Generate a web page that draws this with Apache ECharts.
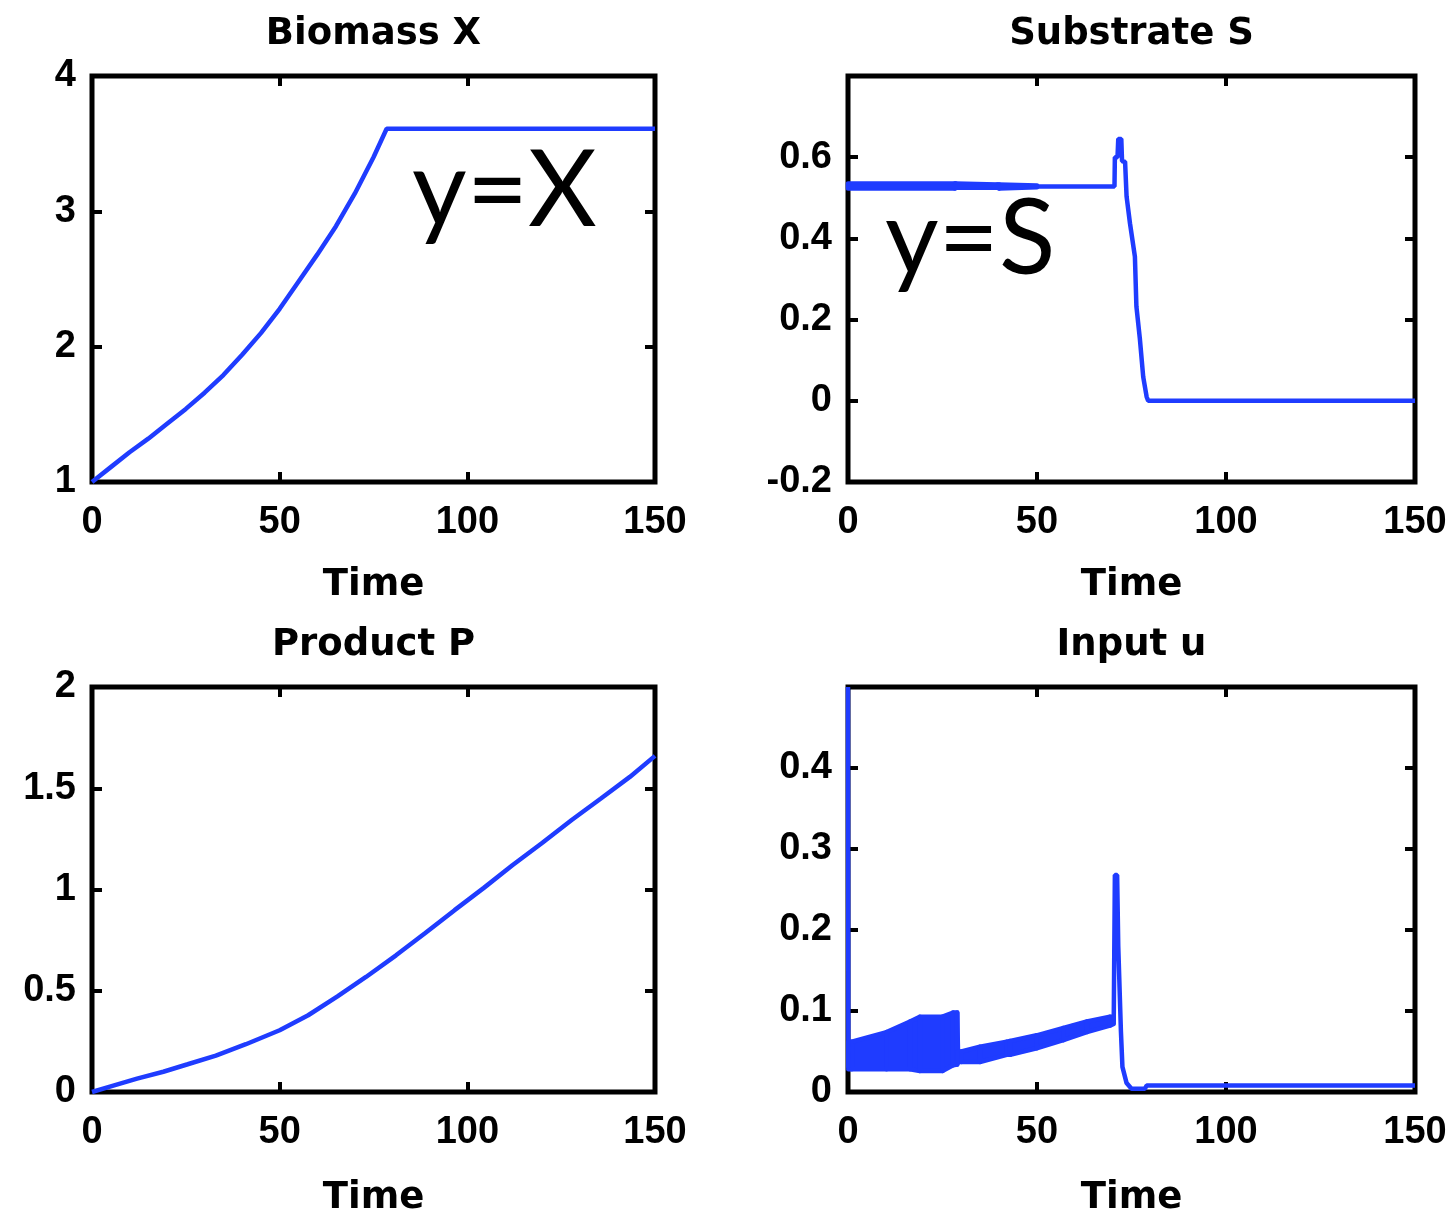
<!DOCTYPE html>
<html>
<head>
<meta charset="utf-8">
<title>Fed-batch simulation</title>
<script src="https://cdn.jsdelivr.net/npm/echarts@6/dist/echarts.min.js"></script>
<style>
  html, body { margin: 0; padding: 0; background: #fff; }
  #main { width: 1455px; height: 1215px; }
</style>
</head>
<body>
<div id="main"></div>
<script>
// ---- values ----
const biomassT = [0, 5, 10, 15, 20, 25, 30, 35, 40, 45, 50, 55, 60, 65, 70, 75, 78.5, 150];
const biomassX = [1.0, 1.11, 1.22, 1.32, 1.43, 1.54, 1.66, 1.79, 1.94, 2.10, 2.28, 2.48, 2.68, 2.89, 3.13, 3.40, 3.61, 3.61];

// S chatters in a thin band for the first 50 time units
const substrateBandT = [0, 28.3, 28.5, 39.5, 40, 50];
const substrateBandLow = [0.523, 0.523, 0.525, 0.525, 0.523, 0.526];
const substrateBandHigh = [0.535, 0.535, 0.535, 0.533, 0.533, 0.530];
const substrateT = [0, 50, 70.5, 70.6, 71.3, 71.5, 72.3, 72.5, 73.3, 73.7, 74.6, 75.9, 76.3, 77.2, 78.1, 79.0, 79.4, 150];
const substrateS = [0.528, 0.528, 0.528, 0.60, 0.60, 0.645, 0.645, 0.59, 0.589, 0.503, 0.437, 0.355, 0.232, 0.154, 0.059, 0.010, 0.0, 0.0];

const productT = [0, 5, 12, 19, 25.5, 33, 41, 50, 57.6, 65.4, 73, 81, 88.8, 96.6, 104.4, 112, 120, 127.8, 135.5, 143.3, 150];
const productP = [0, 0.028, 0.066, 0.10, 0.137, 0.18, 0.236, 0.305, 0.379, 0.472, 0.568, 0.675, 0.785, 0.898, 1.008, 1.12, 1.231, 1.343, 1.448, 1.556, 1.66];

// u chatters between two envelopes until the spike near t = 71
const inputBandT = [0.1, 1, 10.2, 16.4, 19, 25, 27.8, 28.9, 29.1, 30, 34.9, 42, 42.9, 49.9, 57, 63.2, 69.3, 70.3];
const inputBandLow = [0.028, 0.028, 0.028, 0.028, 0.026, 0.026, 0.033, 0.034, 0.037, 0.037, 0.037, 0.046, 0.046, 0.054, 0.064, 0.074, 0.082, 0.084];
const inputBandHigh = [0.062, 0.062, 0.074, 0.087, 0.093, 0.093, 0.098, 0.098, 0.050, 0.050, 0.056, 0.062, 0.063, 0.070, 0.079, 0.087, 0.093, 0.093];
const inputT = [0, 0.1, 35, 70.3, 70.6, 71.2, 71.5, 71.9, 72.2, 72.6, 73.7, 75.0, 78.5, 79.0, 150];
const inputU = [0.5, 0.03, null, 0.088, 0.268, 0.268, 0.18, 0.18, 0.075, 0.031, 0.011, 0.004, 0.004, 0.008, 0.008];

const timeMin = 0, timeMax = 150, timeStep = 50;

// ---- layout ----
const BLUE = '#1f3cff';
const panels = [
  { left: 92,  top: 76,  width: 563, height: 406, title: 'Biomass X',   yMin: 1,    yMax: 4,   yStep: 1,   showMax: true,  nameGap: 85 },
  { left: 848, top: 76,  width: 567, height: 406, title: 'Substrate S', yMin: -0.2, yMax: 0.8, yStep: 0.2, showMax: false, nameGap: 85 },
  { left: 92,  top: 687, width: 563, height: 405, title: 'Product P',   yMin: 0,    yMax: 2,   yStep: 0.5, showMax: true,  nameGap: 88 },
  { left: 848, top: 687, width: 567, height: 405, title: 'Input u',     yMin: 0,    yMax: 0.5, yStep: 0.1, showMax: false, nameGap: 88 }
];

const tickFont = { fontFamily: 'Liberation Sans', fontWeight: 'bold', fontSize: 38, color: '#000' };
const nameFont = { fontFamily: 'DejaVu Sans', fontWeight: 'bold', fontSize: 37, color: '#000' };
const tick = { inside: true, length: 10, lineStyle: { color: '#000', width: 4 } };

function pairs(ts, vs) {
  return ts.map((t, i) => [t, vs[i] === null ? '-' : vs[i]]);
}

function lineSeries(idx, ts, vs) {
  return {
    type: 'line',
    xAxisIndex: idx * 2,
    yAxisIndex: idx * 2,
    data: pairs(ts, vs),
    showSymbol: false,
    connectNulls: false,
    lineStyle: { color: BLUE, width: 4.5 },
    itemStyle: { color: BLUE },
    silent: true
  };
}

// filled envelope: each item draws the strip up to the next sample
function bandSeries(idx, ts, lows, highs) {
  return {
    type: 'custom',
    xAxisIndex: idx * 2,
    yAxisIndex: idx * 2,
    data: ts.map((t, i) => [t, lows[i], highs[i]]),
    encode: { x: 0, y: [1, 2] },
    silent: true,
    renderItem: function (params, api) {
      const i = params.dataIndex;
      if (i >= ts.length - 1) return null;
      const pts = [
        api.coord([ts[i], lows[i]]),
        api.coord([ts[i + 1], lows[i + 1]]),
        api.coord([ts[i + 1], highs[i + 1]]),
        api.coord([ts[i], highs[i]])
      ];
      return {
        type: 'polygon',
        shape: { points: pts },
        style: { fill: BLUE, stroke: BLUE, lineWidth: 4.5, lineJoin: 'round' }
      };
    }
  };
}

const grids = [], xAxes = [], yAxes = [], titles = [];
panels.forEach((p, i) => {
  grids.push({
    left: p.left, top: p.top, width: p.width, height: p.height,
    show: true, borderColor: '#000', borderWidth: 5,
    containLabel: false, outerBoundsMode: 'none'
  });
  xAxes.push({
    gridIndex: i, type: 'value', position: 'bottom',
    min: timeMin, max: timeMax, interval: timeStep,
    axisLine: { show: false, onZero: false },
    axisTick: tick,
    axisLabel: Object.assign({ margin: 22 }, tickFont),
    splitLine: { show: false },
    name: 'Time', nameLocation: 'middle', nameGap: p.nameGap,
    nameTextStyle: nameFont
  });
  xAxes.push({
    gridIndex: i, type: 'value', position: 'top',
    min: timeMin, max: timeMax, interval: timeStep,
    axisLine: { show: false, onZero: false },
    axisTick: tick,
    axisLabel: { show: false },
    splitLine: { show: false }
  });
  yAxes.push({
    gridIndex: i, type: 'value', position: 'left',
    min: p.yMin, max: p.yMax, interval: p.yStep,
    axisLine: { show: false, onZero: false },
    axisTick: tick,
    axisLabel: Object.assign({ margin: 16, showMaxLabel: p.showMax, showMinLabel: true }, tickFont),
    splitLine: { show: false }
  });
  yAxes.push({
    gridIndex: i, type: 'value', position: 'right',
    min: p.yMin, max: p.yMax, interval: p.yStep,
    axisLine: { show: false, onZero: false },
    axisTick: tick,
    axisLabel: { show: false },
    splitLine: { show: false }
  });
  titles.push({
    text: p.title,
    left: p.left + p.width / 2,
    top: p.top - 46 - 14,
    textAlign: 'center',
    padding: 0,
    textStyle: nameFont
  });
});

const chart = echarts.init(document.getElementById('main'));
chart.setOption({
  animation: false,
  backgroundColor: '#fff',
  title: titles,
  grid: grids,
  xAxis: xAxes,
  yAxis: yAxes,
  series: [
    lineSeries(0, biomassT, biomassX),
    lineSeries(1, substrateT, substrateS),
    bandSeries(1, substrateBandT, substrateBandLow, substrateBandHigh),
    lineSeries(2, productT, productP),
    bandSeries(3, inputBandT, inputBandLow, inputBandHigh),
    lineSeries(3, inputT, inputU)
  ],
  graphic: [
    { type: 'text', x: 412, y: 192, silent: true,
      style: { text: 'y=X', font: '106px Lato', fill: '#000', verticalAlign: 'middle' } },
    { type: 'text', x: 885, y: 240, silent: true,
      style: { text: 'y=S', font: '104px Lato', fill: '#000', verticalAlign: 'middle' } }
  ]
});
window.addEventListener('resize', () => chart.resize());
</script>
</body>
</html>
